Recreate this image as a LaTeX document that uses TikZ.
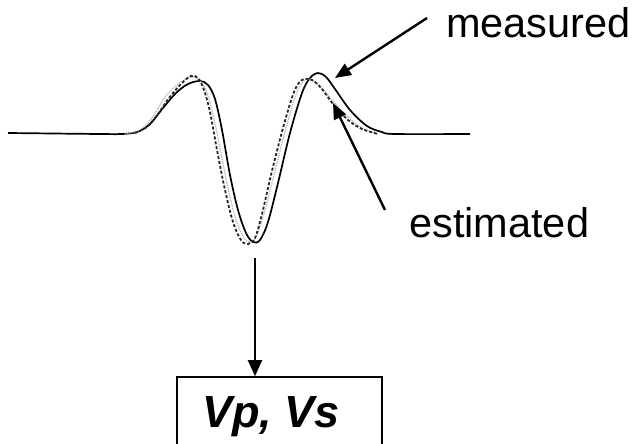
\documentclass[tikz,border=0pt]{standalone}
\usepackage{fontspec}
\setmainfont{Liberation Sans}
\usetikzlibrary{arrows.meta}
\begin{document}
\begin{tikzpicture}[x=1pt,y=-1pt,
  wave/.style={line width=1.7pt,line join=round},
  estwave/.style={line width=1.8pt,dash pattern=on 3pt off 2pt,black!85},
  estgray/.style={line width=1.2pt,gray!60,densely dotted},
  pointer/.style={line width=2.4pt,-{Triangle[length=16pt,width=13pt]}},
  lab/.style={font=\fontsize{41.5}{41.5}\selectfont,inner sep=0pt,anchor=base west},
  result/.style={draw,line width=1.6pt,minimum width=205pt,minimum height=72pt,inner sep=0pt}]
\useasboundingbox (0,0) rectangle (637,444);
% measured (solid) trace
\draw[wave] plot[smooth,tension=0.55] coordinates {(8,133) (100,134) (122,134) (137,132) (150,124) (163,108) (176,93) (188,84) (200,81) (208,85) (215,99) (222,130) (230,175) (238,210) (246,233) (253,242) (260,240) (268,222) (278,183) (290,133) (302,93) (310,78) (318,73) (326,77) (335,89) (350,110) (367,126) (382,132) (395,134) (470,134)};
% estimated (dashed) trace
\draw[estgray] plot[smooth,tension=0.55] coordinates {(125,134) (140,130) (152,118) (165,97) (178,84) (190,77) (198,79) (205,88) (212,110) (220,148) (228,188) (236,220) (244,238) (250,242) (256,237) (264,214) (274,175) (286,128) (297,92) (305,80) (312,80) (322,88) (333,101) (348,117) (362,128) (378,134)};
\draw[estwave] plot[smooth,tension=0.55] coordinates {(135,133) (147,127) (158,114) (169,98) (181,84) (191,76) (198,78) (204,90) (210,112) (217,150) (225,190) (233,222) (241,240) (248,244) (255,238) (262,214) (271,175) (283,128) (294,92) (302,80) (312,80) (322,89) (333,104) (348,120) (362,129) (378,134)};
% labels and pointers
\node[lab] (meas) at (446,38) {measured};
\node[lab] (est) at (409,237) {estimated};
\coordinate (mtail) at (427,18);
\coordinate (mtip) at (335,78);
\coordinate (etail) at (385,210);
\coordinate (etip) at (333,103);
\draw[pointer] (mtail) -- (mtip);
\draw[pointer] (etail) -- (etip);
% result box
\node[result] (box) at (279.5,413) {};
\node[inner sep=0pt,anchor=base,font=\fontsize{45}{45}\selectfont\bfseries\itshape] (vpvs) at (271,427) {Vp, Vs};
\coordinate (wbot) at (255,258);
\draw[line width=2pt,-{Triangle[length=16pt,width=14pt]}] (wbot) -- (wbot |- box.north);
\end{tikzpicture}
\end{document}
